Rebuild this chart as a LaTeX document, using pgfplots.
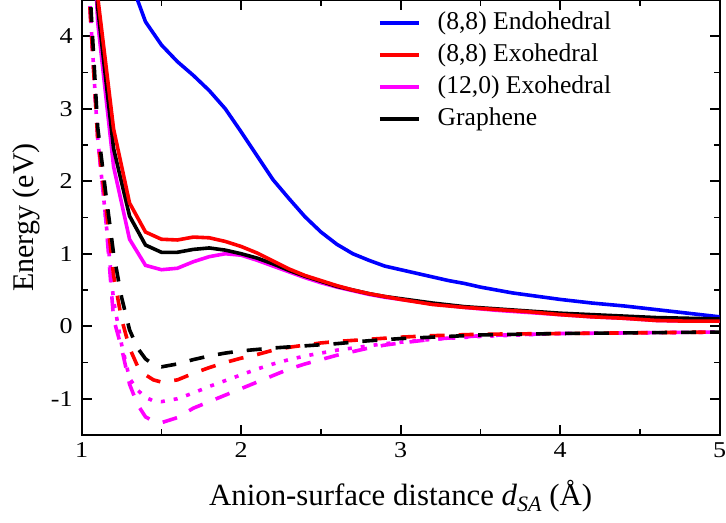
\documentclass[border=0pt]{standalone}
\usepackage{fontspec}
\setmainfont{Liberation Serif}
\usepackage{pgfplots}
\pgfplotsset{compat=1.18}

\definecolor{gBlue}{RGB}{0,0,255}
\definecolor{gRed}{RGB}{255,0,0}
\definecolor{gMag}{RGB}{255,0,255}

\begin{document}
\fontsize{13}{15}\selectfont
\begin{tikzpicture}
\begin{axis}[
  scale only axis,
  width=319pt, height=217.5pt,
  xmin=1, xmax=5, ymin=-1.5, ymax=4.5,
  xtick={1,2,3,4,5}, ytick={-1,0,1,2,3,4},
  minor x tick num=1, minor y tick num=1,
  tick align=inside,
  major tick length=5pt, minor tick length=3pt,
  every tick/.style={line width=0.8pt, black},
  axis line style={line width=1pt},
  /pgf/number format/assume math mode=true,
  ticklabel style={font=\fontsize{13}{15}\selectfont, yscale=0.87},
  legend cell align=left,
  legend image code/.code={\draw[#1] (0pt,0pt) -- (19.5pt,0pt);},
  legend style={at={(axis description cs:0.464,0.975)}, anchor=north west,
    draw=none, fill=none, font=\fontsize{12.8}{15}\selectfont,
    row sep=4pt, column sep=3.5pt, inner sep=0pt,
    nodes={inner ysep=0pt, inner xsep=5pt, text height=9pt, text depth=3pt}},
  clip mode=individual,
]

% --- repulsive-side energies (solid) ---
\addplot[gBlue, line width=1.8pt, forget plot] table {
1.2 7.0
1.3 4.8
1.4 4.2
1.5 3.88
1.6 3.65
1.7 3.46
1.8 3.25
1.9 3.00
2.0 2.68
2.1 2.35
2.2 2.02
2.3 1.76
2.4 1.51
2.5 1.30
2.6 1.13
2.7 1.00
2.8 0.91
2.9 0.83
3.0 0.78
3.1 0.73
3.2 0.68
3.3 0.63
3.4 0.59
3.5 0.54
3.6 0.50
3.7 0.46
3.8 0.43
3.9 0.40
4.0 0.37
4.2 0.32
4.4 0.28
4.6 0.23
4.8 0.18
5.0 0.13
};

\addplot[gMag, line width=1.8pt, forget plot] table {
1.0 9.0
1.1 4.2
1.2 2.2
1.3 1.2
1.4 0.84
1.5 0.78
1.6 0.80
1.7 0.89
1.8 0.96
1.9 1.00
2.0 0.98
2.1 0.91
2.2 0.83
2.3 0.75
2.4 0.67
2.5 0.60
2.6 0.54
2.7 0.49
2.8 0.44
2.9 0.40
3.0 0.37
3.2 0.31
3.4 0.26
3.6 0.22
3.8 0.19
4.0 0.16
4.2 0.13
4.4 0.11
4.6 0.08
4.8 0.07
5.0 0.07
};

\addplot[black, line width=1.8pt, forget plot] table {
1.0 9.0
1.1 4.4
1.2 2.45
1.3 1.52
1.4 1.12
1.5 1.02
1.6 1.02
1.7 1.06
1.8 1.08
1.9 1.05
2.0 1.00
2.1 0.94
2.2 0.86
2.3 0.77
2.4 0.69
2.5 0.62
2.6 0.55
2.7 0.50
2.8 0.45
2.9 0.41
3.0 0.38
3.2 0.32
3.4 0.27
3.6 0.24
3.8 0.21
4.0 0.18
4.2 0.16
4.4 0.14
4.6 0.12
4.8 0.11
5.0 0.10
};

\addplot[gRed, line width=1.8pt, forget plot] table {
1.0 9.0
1.1 4.55
1.2 2.72
1.3 1.70
1.4 1.30
1.5 1.20
1.6 1.19
1.7 1.23
1.8 1.22
1.9 1.17
2.0 1.10
2.1 1.01
2.2 0.90
2.3 0.79
2.4 0.70
2.5 0.63
2.6 0.56
2.7 0.50
2.8 0.45
2.9 0.41
3.0 0.37
3.2 0.30
3.4 0.26
3.6 0.23
3.8 0.20
4.0 0.16
4.2 0.13
4.4 0.11
4.6 0.08
4.8 0.07
5.0 0.07
};

% --- binding-side energies (broken lines) ---
\addplot[gMag, line width=1.8pt, dash pattern=on 7.5pt off 7pt, forget plot] table {
1.0 8.0
1.05 4.45
1.1 2.6
1.15 1.5
1.2 0.1
1.25 -0.3
1.3 -0.8
1.35 -1.08
1.4 -1.25
1.45 -1.31
1.5 -1.33
1.6 -1.26
1.7 -1.13
1.8 -1.04
1.9 -0.95
2.0 -0.86
2.1 -0.77
2.2 -0.68
2.3 -0.59
2.4 -0.52
2.5 -0.46
2.6 -0.40
2.7 -0.35
2.8 -0.30
2.9 -0.26
3.0 -0.23
3.2 -0.18
3.5 -0.13
4.0 -0.10
4.5 -0.09
5.0 -0.08
};

\addplot[gMag, line width=1.8pt, dash pattern=on 2pt off 4.5pt, forget plot] table {
1.0 8.0
1.05 4.5
1.1 2.6
1.15 1.5
1.2 0.35
1.25 -0.25
1.3 -0.72
1.35 -0.88
1.4 -0.98
1.45 -1.03
1.5 -1.04
1.6 -1.00
1.7 -0.92
1.8 -0.83
1.9 -0.75
2.0 -0.67
2.1 -0.59
2.2 -0.52
2.3 -0.46
2.4 -0.41
2.5 -0.37
2.6 -0.33
2.7 -0.30
2.8 -0.27
2.9 -0.24
3.0 -0.22
3.2 -0.18
3.5 -0.14
4.0 -0.10
4.5 -0.09
5.0 -0.08
};

\addplot[gRed, line width=1.8pt, dash pattern=on 7.5pt off 7pt, forget plot] table {
1.0 8.0
1.05 4.45
1.1 2.6
1.15 1.7
1.2 0.7
1.25 0.1
1.3 -0.3
1.35 -0.55
1.4 -0.67
1.45 -0.74
1.5 -0.77
1.6 -0.74
1.7 -0.65
1.8 -0.57
1.9 -0.50
2.0 -0.44
2.1 -0.39
2.2 -0.33
2.3 -0.29
2.4 -0.26
2.5 -0.23
2.6 -0.21
2.8 -0.18
3.0 -0.15
3.2 -0.13
3.5 -0.11
4.0 -0.10
4.5 -0.09
5.0 -0.08
};

\addplot[black, line width=1.8pt, dash pattern=on 7.5pt off 7pt, forget plot] table {
1.0 8.0
1.05 4.7
1.1 2.75
1.15 1.85
1.2 1.0
1.25 0.4
1.3 -0.05
1.35 -0.3
1.4 -0.45
1.45 -0.53
1.5 -0.56
1.6 -0.52
1.7 -0.46
1.8 -0.41
1.9 -0.37
2.0 -0.34
2.2 -0.30
2.4 -0.27
2.6 -0.24
2.8 -0.20
3.0 -0.17
3.2 -0.15
3.5 -0.12
4.0 -0.10
4.5 -0.09
5.0 -0.08
};

\addlegendimage{gBlue, line width=1.8pt}
\addlegendentry{(8,8) Endohedral}
\addlegendimage{gRed, line width=1.8pt}
\addlegendentry{(8,8) Exohedral}
\addlegendimage{gMag, line width=1.8pt}
\addlegendentry{(12,0) Exohedral}
\addlegendimage{black, line width=1.8pt}
\addlegendentry{Graphene}

% axis titles
\node[anchor=base, font=\fontsize{15.4}{17}\selectfont]
  at (axis description cs:0.5,-0.161) {Anion-surface distance \textit{d}\raisebox{-0.45ex}{\fontsize{11}{12}\selectfont\textit{SA}} (Å)};
\node[rotate=90, anchor=center, font=\fontsize{15}{17}\selectfont]
  at (axis description cs:-0.0866,0.5) {Energy (eV)};
\end{axis}
\pgfresetboundingbox
\path[use as bounding box] (-40.85pt,-44pt) rectangle (322.15pt,217.5pt);
\end{tikzpicture}
\end{document}
